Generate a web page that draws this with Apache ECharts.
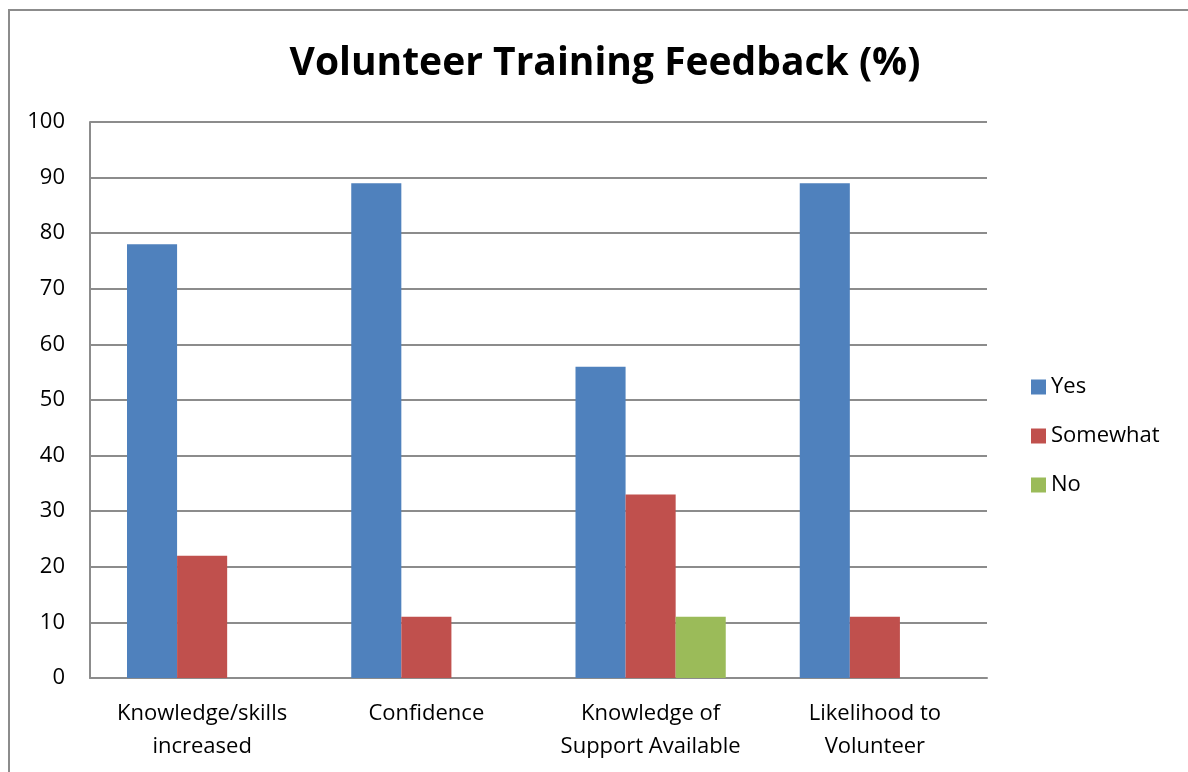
<!DOCTYPE html>
<html lang="en">
<head>
    <meta charset="UTF-8">
    <title>Volunteer Training Feedback</title>
    <script src="https://cdn.jsdelivr.net/npm/echarts@6/dist/echarts.min.js"></script>
    <style>
        html, body { margin: 0; padding: 0; background: #fff; }
        #frame { position: absolute; left: 8px; top: 9px; width: 1180px; height: 763px;
                 border-left: 2px solid #8c8c8c; border-top: 2px solid #8c8c8c; box-sizing: border-box; }
        #chart { position: absolute; left: 0; top: 0; width: 1188px; height: 772px; }
    </style>
</head>
<body>
<div id="frame"></div>
<div id="chart"></div>
<script>
    var categories = ['Knowledge/skills\nincreased', 'Confidence', 'Knowledge of\nSupport Available', 'Likelihood to\nVolunteer'];
    var yesValues = [78, 89, 56, 89];
    var somewhatValues = [22, 11, 33, 11];
    var noValues = [0, 0, 11, 0];
    var yTicks = [0, 10, 20, 30, 40, 50, 60, 70, 80, 90, 100];

    var font = '"Open Sans", Lato, sans-serif';
    var myChart = echarts.init(document.getElementById('chart'));

    var option = {
        animation: false,
        title: {
            text: 'Volunteer Training Feedback (%)',
            left: 600,
            textAlign: 'center',
            top: 39,
            textStyle: { fontFamily: font, fontSize: 39, fontWeight: 'bold', color: '#000' }
        },
        legend: {
            orient: 'vertical',
            left: 1026,
            top: 371,
            itemWidth: 15,
            itemHeight: 15,
            itemGap: 27,
            icon: 'rect',
            textStyle: { fontFamily: font, fontSize: 22, color: '#000' },
            data: ['Yes', 'Somewhat', 'No']
        },
        grid: { left: 90, right: 201, top: 122, bottom: 94 },
        xAxis: {
            type: 'category',
            data: categories,
            axisLine: { lineStyle: { color: '#8c8c8c', width: 2 } },
            axisTick: { show: false },
            axisLabel: { fontFamily: font, fontSize: 22, color: '#000', margin: 19, lineHeight: 33, interval: 0 }
        },
        yAxis: {
            type: 'value',
            min: yTicks[0],
            max: yTicks[yTicks.length - 1],
            interval: 10,
            axisLine: { show: true, lineStyle: { color: '#8c8c8c', width: 2 } },
            axisTick: { show: false },
            splitLine: { lineStyle: { color: '#8c8c8c', width: 2 } },
            axisLabel: { fontFamily: font, fontSize: 22, color: '#000', margin: 25 }
        },
        series: [
            { name: 'Yes', type: 'bar', data: yesValues, barGap: '0%', barCategoryGap: '33%', itemStyle: { color: '#4f81bd' } },
            { name: 'Somewhat', type: 'bar', data: somewhatValues, itemStyle: { color: '#c0504d' } },
            { name: 'No', type: 'bar', data: noValues, itemStyle: { color: '#9bbb59' } }
        ]
    };

    myChart.setOption(option);
</script>
</body>
</html>
